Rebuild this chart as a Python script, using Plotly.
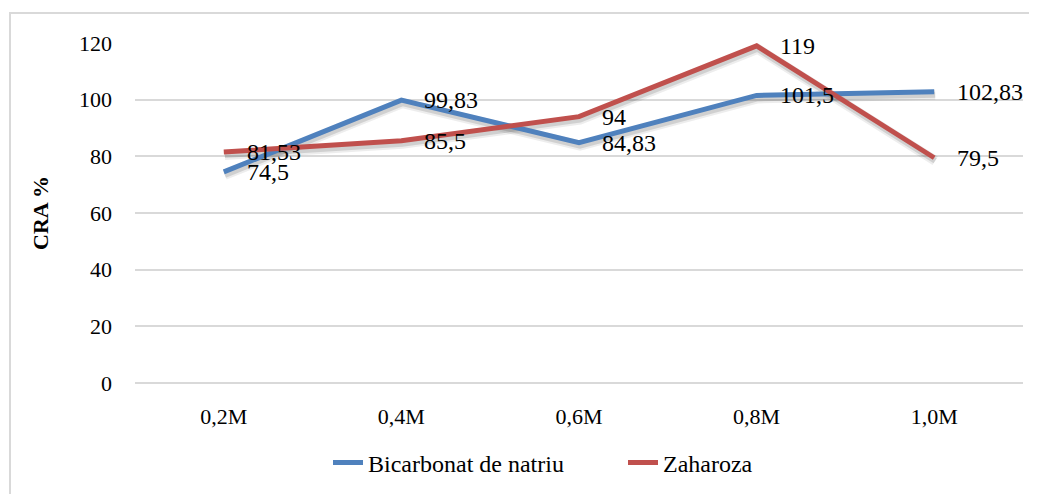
import plotly.graph_objects as go

categories = ["0,2M", "0,4M", "0,6M", "0,8M", "1,0M"]
bicarbonat = [74.5, 99.83, 84.83, 101.5, 102.83]
zaharoza = [81.53, 85.5, 94, 119, 79.5]
bicarbonat_labels = ["74,5", "99,83", "84,83", "101,5", "102,83"]
zaharoza_labels = ["81,53", "85,5", "94", "119", "79,5"]
y_ticks = [0, 20, 40, 60, 80, 100, 120]

FONT = "Liberation Serif, Times New Roman, serif"
BLUE = "#4F81BD"
RED = "#C0504D"

# shadow offset (px) expressed in axis units
shadow_dy = 3 * 120 / 340
shadow_dx = 1 / 177.6

fig = go.Figure()
# soft shadows on the (hidden) base axes, drawn below the main lines
for vals in (bicarbonat, zaharoza):
    fig.add_trace(go.Scatter(
        x=categories, y=vals, mode="lines", showlegend=False, hoverinfo="skip",
        line=dict(color="rgba(0,0,0,0.07)", width=10), xaxis="x", yaxis="y",
    ))
    fig.add_trace(go.Scatter(
        x=categories, y=vals, mode="lines", showlegend=False, hoverinfo="skip",
        line=dict(color="rgba(0,0,0,0.12)", width=6), xaxis="x", yaxis="y",
    ))
fig.add_trace(go.Scatter(
    x=categories, y=bicarbonat, mode="lines", name="Bicarbonat de natriu",
    line=dict(color=BLUE, width=5), xaxis="x2", yaxis="y2",
))
fig.add_trace(go.Scatter(
    x=categories, y=zaharoza, mode="lines", name="Zaharoza",
    line=dict(color=RED, width=5), xaxis="x2", yaxis="y2",
))

annotations = []
for cat, val, lab in zip(categories, bicarbonat, bicarbonat_labels):
    annotations.append(dict(x=cat, y=val, xref="x2", yref="y2", text=lab, showarrow=False,
                            xanchor="left", yanchor="middle", xshift=21,
                            font=dict(family=FONT, size=24, color="black")))
for cat, val, lab in zip(categories, zaharoza, zaharoza_labels):
    annotations.append(dict(x=cat, y=val, xref="x2", yref="y2", text=lab, showarrow=False,
                            xanchor="left", yanchor="middle", xshift=21,
                            font=dict(family=FONT, size=24, color="black")))
annotations.append(dict(text="<b>CRA %</b>", xref="paper", yref="paper",
                        x=(40 - 135) / 888, y=0.5, textangle=-90, showarrow=False,
                        font=dict(family=FONT, size=22, color="black"),
                        xanchor="center", yanchor="middle"))

fig.update_layout(
    width=1029, height=486,
    margin=dict(l=127, r=14, t=35, b=111, autoexpand=False),
    paper_bgcolor="white", plot_bgcolor="white",
    font=dict(family=FONT, size=22, color="black"),
    showlegend=True,
    legend=dict(orientation="h", x=(328 - 135) / 888, xanchor="left", y=-0.235,
                yanchor="middle", entrywidth=250, entrywidthmode="pixels",
                font=dict(family=FONT, size=24), traceorder="normal"),
    xaxis=dict(type="category", range=[-0.5 - shadow_dx, 4.5 - shadow_dx],
               visible=False, automargin=False),
    yaxis=dict(range=[0 + shadow_dy, 120 + shadow_dy], visible=False, automargin=False),
    xaxis2=dict(type="category", overlaying="x", range=[-0.5, 4.5], showgrid=False,
                showline=False, zeroline=False, automargin=False, ticks="",
                ticklabelstandoff=18, side="bottom",
                tickfont=dict(family=FONT, size=22)),
    yaxis2=dict(overlaying="y", range=[0, 120], tickvals=y_ticks,
                ticktext=[str(v) for v in y_ticks], side="left",
                showgrid=True, gridcolor="#D9D9D9", gridwidth=1.5,
                zeroline=True, zerolinecolor="#D9D9D9", zerolinewidth=2,
                showline=False, ticks="", ticklabelstandoff=22, automargin=False,
                tickfont=dict(family=FONT, size=22)),
    shapes=[dict(type="rect", xref="paper", yref="paper",
                 x0=(10 - 135) / 888, x1=1.05, y0=-0.5, y1=(383 - 13) / 340,
                 line=dict(color="#D9D9D9", width=2), fillcolor="rgba(0,0,0,0)", layer="below")],
    annotations=annotations,
)

fig.write_html("out.html")
